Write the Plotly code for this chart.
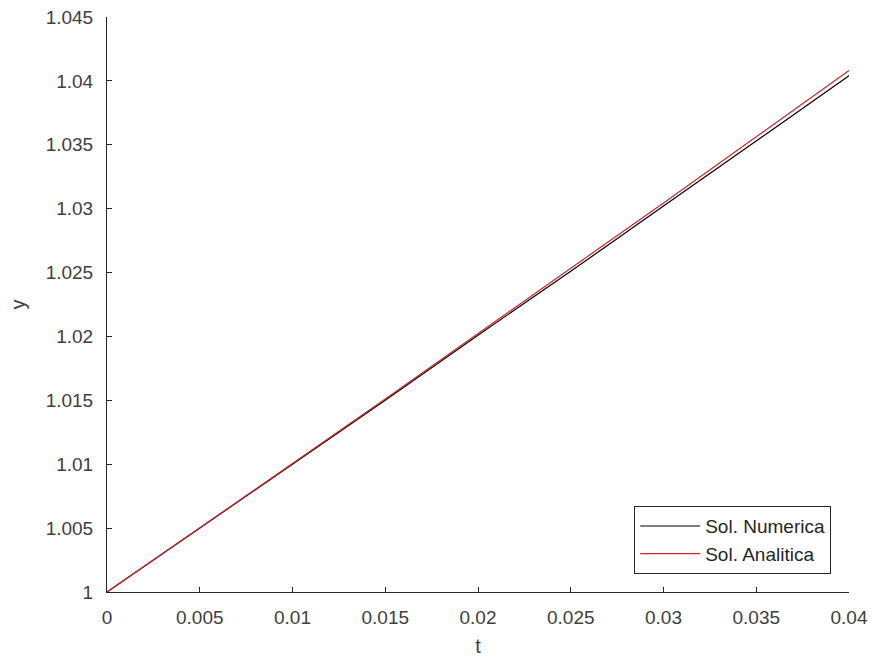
import plotly.graph_objects as go

t_vals = [0.0, 0.005, 0.01, 0.015, 0.02, 0.025, 0.03, 0.035, 0.04]
y_numerica = [1.0, 1.0050, 1.0100, 1.0150, 1.0201, 1.0251, 1.0302, 1.0353, 1.0404]
y_analitica = [1.0, 1.00501, 1.01005, 1.01511, 1.02020, 1.02532, 1.03045, 1.03562, 1.04081]

x_ticks = [0, 0.005, 0.01, 0.015, 0.02, 0.025, 0.03, 0.035, 0.04]
x_ticklabels = ["0", "0.005", "0.01", "0.015", "0.02", "0.025", "0.03", "0.035", "0.04"]
y_ticks = [1.0, 1.005, 1.01, 1.015, 1.02, 1.025, 1.03, 1.035, 1.04, 1.045]
y_ticklabels = ["1", "1.005", "1.01", "1.015", "1.02", "1.025", "1.03", "1.035", "1.04", "1.045"]

fig = go.Figure()
fig.add_trace(go.Scatter(x=t_vals, y=y_numerica, mode="lines", name="Sol. Numerica",
                         line=dict(color="#000000", width=1.2)))
fig.add_trace(go.Scatter(x=t_vals, y=y_analitica, mode="lines", name="Sol. Analitica",
                         line=dict(color="#c8282d", width=1.2)))

axis_color = "#262626"
font_fam = "Liberation Sans, Arial, sans-serif"

fig.update_layout(
    width=877, height=664,
    margin=dict(l=107, r=28, t=17, b=72),
    paper_bgcolor="white", plot_bgcolor="white",
    font=dict(family=font_fam, size=19, color="#404040"),
    showlegend=True,
    legend=dict(x=0.976, y=0.031, xanchor="right", yanchor="bottom",
                bgcolor="white", bordercolor=axis_color, borderwidth=1,
                font=dict(size=19, color="#262626"),
                tracegroupgap=0, itemwidth=60),
    xaxis=dict(range=[0, 0.04], tickvals=x_ticks, ticktext=x_ticklabels,
               ticks="inside", ticklen=5, tickcolor=axis_color,
               showline=True, linecolor=axis_color, linewidth=1,
               showgrid=False, zeroline=False, ticklabelstandoff=8,
               automargin=False,
               title=dict(text="t", standoff=12, font=dict(size=20, color="#404040"))),
    yaxis=dict(range=[1, 1.045], tickvals=y_ticks, ticktext=y_ticklabels,
               ticks="inside", ticklen=5, tickcolor=axis_color,
               showline=True, linecolor=axis_color, linewidth=1,
               showgrid=False, zeroline=False, ticklabelstandoff=9,
               automargin=False,
               title=dict(text="y", standoff=14, font=dict(size=20, color="#404040"))),
)

fig.write_html("out.html")
